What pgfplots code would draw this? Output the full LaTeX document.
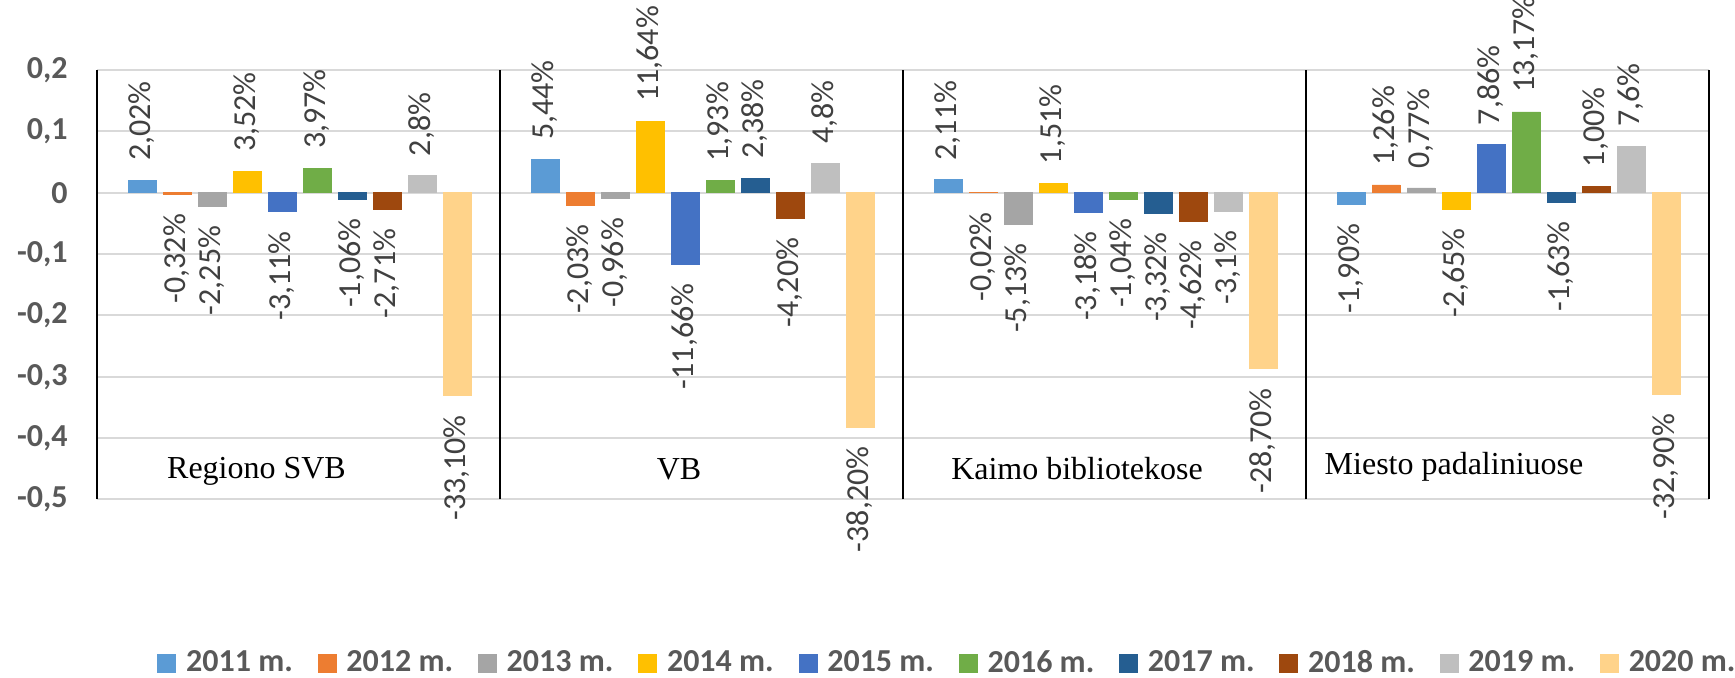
\documentclass[border=0pt]{standalone}
\usepackage{fontspec}
\setmainfont{Carlito}
\newfontfamily\timesfont{Liberation Serif}
\usepackage{graphicx}
\usepackage{pgfplots}
\pgfplotsset{compat=1.18}
\definecolor{c1}{HTML}{5B9BD5}
\definecolor{c2}{HTML}{ED7D31}
\definecolor{c3}{HTML}{A5A5A5}
\definecolor{c4}{HTML}{FFC000}
\definecolor{c5}{HTML}{4472C4}
\definecolor{c6}{HTML}{70AD47}
\definecolor{c7}{HTML}{255E91}
\definecolor{c8}{HTML}{9E480E}
\definecolor{c9}{HTML}{BFBFBF}
\definecolor{c10}{HTML}{FFD38A}
\definecolor{lblgray}{HTML}{404040}
\definecolor{tickgray}{HTML}{595959}
\definecolor{gridgray}{HTML}{D9D9D9}
% anchor chosen from the sign written in the label
\def\signanchor#1#2\relax{\ifx-#1north\else south\fi}
\pgfplotsset{
  mybar/.style={ybar, bar shift=0pt, bar width=28, fill=#1, draw=#1, line width=0.4pt,
    legend image code/.code={\fill[fill=#1] (0pt,-4.5pt) rectangle (9pt,4.5pt);}},
}
\begin{document}
\begin{tikzpicture}
\path[use as bounding box] (0,0) rectangle (867.5pt,339pt);
\begin{axis}[
  at={(48.5pt,89.25pt)}, anchor=south west,
  width=806pt, height=214.75pt, scale only axis,
  xmin=0, xmax=1612, ymin=-0.5, ymax=0.2,
  clip=false,
  axis line style={draw=none},
  xtick=\empty,
  ytick={-0.5,-0.4,-0.3,-0.2,-0.1,0,0.1,0.2},
  /pgf/number format/use comma,
  /pgf/number format/fixed,
  /pgf/number format/precision=1,
  /pgf/number format/assume math mode=true,
  major tick length=0pt,
  yticklabel style={font=\bfseries\fontsize{16}{19}\selectfont, text=tickgray, inner xsep=0pt, xshift=-14.5pt},
  ymajorgrids,
  grid style={gridgray, line width=1pt},
  point meta=explicit symbolic,
  nodes near coords={\rotatebox{90}{\pgfplotspointmeta}},
  every node near coord/.append style={font=\fontsize{16}{19}\selectfont, text=lblgray, inner xsep=0pt, inner ysep=9.5pt,
    anchor=\expandafter\signanchor\pgfplotspointmeta\relax},
  legend columns=10,
  legend cell align=left,
  legend style={draw=none, fill=none, at={(0.0372,-0.3807)}, anchor=west, inner sep=0pt,
    font=\bfseries\fontsize{16}{19}\selectfont, text=tickgray,
    nodes={inner sep=0pt},
    column sep=5pt,
    /tikz/every even column/.append style={column sep=12.4pt}},
]
\addplot[mybar=c1] coordinates {(45,0.0202) [2,02\%] (448,0.0544) [5,44\%] (851,0.0211) [2,11\%] (1254,-0.0190) [-1,90\%]};
\addplot[mybar=c2] coordinates {(80,-0.0032) [-0,32\%] (483,-0.0203) [-2,03\%] (886,-0.0002) [-0,02\%] (1289,0.0126) [1,26\%]};
\addplot[mybar=c3] coordinates {(115,-0.0225) [-2,25\%] (518,-0.0096) [-0,96\%] (921,-0.0513) [-5,13\%] (1324,0.0077) [0,77\%]};
\addplot[mybar=c4] coordinates {(150,0.0352) [3,52\%] (553,0.1164) [11,64\%] (956,0.0151) [1,51\%] (1359,-0.0265) [-2,65\%]};
\addplot[mybar=c5] coordinates {(185,-0.0311) [-3,11\%] (588,-0.1166) [-11,66\%] (991,-0.0318) [-3,18\%] (1394,0.0786) [7,86\%]};
\addplot[mybar=c6] coordinates {(220,0.0397) [3,97\%] (623,0.0193) [1,93\%] (1026,-0.0104) [-1,04\%] (1429,0.1317) [13,17\%]};
\addplot[mybar=c7] coordinates {(255,-0.0106) [-1,06\%] (658,0.0238) [2,38\%] (1061,-0.0332) [-3,32\%] (1464,-0.0163) [-1,63\%]};
\addplot[mybar=c8] coordinates {(290,-0.0271) [-2,71\%] (693,-0.0420) [-4,20\%] (1096,-0.0462) [-4,62\%] (1499,0.0100) [1,00\%]};
\addplot[mybar=c9] coordinates {(325,0.028) [2,8\%] (728,0.048) [4,8\%] (1131,-0.031) [-3,1\%] (1534,0.076) [7,6\%]};
\addplot[mybar=c10] coordinates {(360,-0.331) [-33,10\%] (763,-0.382) [-38,20\%] (1166,-0.287) [-28,70\%] (1569,-0.329) [-32,90\%]};
\legend{2011 m.,2012 m.,2013 m.,2014 m.,2015 m.,2016 m.,2017 m.,2018 m.,2019 m.,2020 m.}
\draw[black, line width=1pt] (axis cs:0,-0.5) -- (axis cs:0,0.2);
\draw[black, line width=1pt] (axis cs:403,-0.5) -- (axis cs:403,0.2);
\draw[black, line width=1pt] (axis cs:806,-0.5) -- (axis cs:806,0.2);
\draw[black, line width=1pt] (axis cs:1209,-0.5) -- (axis cs:1209,0.2);
\draw[black, line width=1pt] (axis cs:1612,-0.5) -- (axis cs:1612,0.2);
\node[font=\timesfont\fontsize{16}{19}\selectfont, anchor=base] at (axis cs:159.5,-0.465) {Regiono SVB};
\node[font=\timesfont\fontsize{16}{19}\selectfont, anchor=base] at (axis cs:582,-0.468) {VB};
\node[font=\timesfont\fontsize{16}{19}\selectfont, anchor=base] at (axis cs:980,-0.468) {Kaimo bibliotekose};
\node[font=\timesfont\fontsize{16}{19}\selectfont, anchor=base] at (axis cs:1357,-0.460) {Miesto padaliniuose};
\end{axis}
\end{tikzpicture}
\end{document}
